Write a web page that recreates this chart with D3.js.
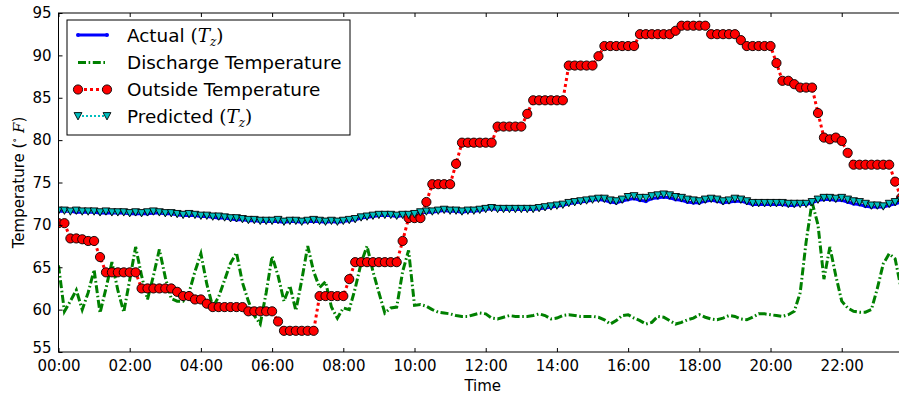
<!DOCTYPE html>
<html><head><meta charset="utf-8">
<script src="https://cdn.jsdelivr.net/npm/d3@7/dist/d3.min.js"></script>
<style>body{margin:0;background:#fff}svg{display:block}text{font-family:"DejaVu Sans",sans-serif}</style>
</head><body>
<svg id="c" width="899" height="398"></svg>
<script>
// ---- data (10-minute samples starting 00:00) ----
const stepMinutes = 10;
const tickLabels = ["00:00","02:00","04:00","06:00","08:00","10:00","12:00","14:00","16:00","18:00","20:00","22:00"];
const yTicks = [55,60,65,70,75,80,85,90,95];
const seriesNames = ["Actual", "Discharge Temperature", "Outside Temperature", "Predicted"];

const outside = [70.2,70.2,
 68.4,68.4,68.3,68.1,68.1, 66.2,
 64.4,64.4,64.4,64.4,64.4,64.4,
 62.5,62.5,62.5,62.5,62.5,62.5, 62.1, 61.6,61.6, 61.2,61.2, 60.7,
 60.3,60.3,60.3,60.3,60.3,60.3, 59.8,59.8,59.8,59.8,59.8, 58.6,
 57.5,57.5,57.5,57.5,57.5,57.5, 61.6,61.6,61.6,61.6,61.6, 63.6,
 65.6,65.6,65.6,65.6,65.6,65.6,65.6,65.6, 68.1, 70.8,70.8,70.8, 72.7,
 74.8,74.8,74.8,74.8, 77.2, 79.7,79.7,79.7,79.7,79.7,79.7,
 81.6,81.6,81.6,81.6,81.6, 83.1, 84.7,84.7,84.7,84.7,84.7,84.7,
 88.8,88.8,88.8,88.8,88.8, 89.9, 91.1,91.1,91.1,91.1,91.1,91.1,
 92.5,92.5,92.5,92.5,92.5,92.5, 92.9, 93.5,93.5,93.5,93.5,93.5,
 92.5,92.5,92.5,92.5,92.5, 91.8, 91.1,91.1,91.1,91.1,91.1, 89.1,
 87.0,87.0, 86.6, 86.2,86.2,86.2, 83.2, 80.3,80.1,80.3, 79.9, 78.5,
 77.1,77.1,77.1,77.1,77.1,77.1,77.1, 75.1, 73.2];

const discharge = [65.2,59.8,61.0,62.3,60.0,62.0,64.7,59.6,62.5,65.6,
 62.3,59.7,63.5,67.4,64.0,61.2,64.0,67.1,63.8,61.3,
 61.0,61.0,62.0,64.5,66.6,63.0,60.3,61.5,63.5,65.5,
 66.7,63.2,61.0,59.3,58.3,62.0,66.3,64.0,61.0,62.8,
 59.9,63.5,67.5,64.5,62.6,63.3,60.3,59.0,60.2,60.0,
 62.5,65.5,67.5,64.5,62.0,59.6,60.2,60.3,64.5,67.0,
 60.5,60.6,60.4,60.0,59.7,59.6,59.5,59.3,59.2,59.2,
 59.4,59.6,59.5,59.0,58.9,59.1,59.3,59.2,59.2,59.2,
 59.3,59.5,59.3,58.9,59.0,59.3,59.4,59.3,59.2,59.2,
 59.2,59.1,58.8,58.3,58.7,59.3,59.4,59.0,58.7,58.3,
 58.5,59.2,59.1,58.7,58.3,58.5,58.8,59.0,59.4,59.1,
 58.9,58.8,59.0,59.3,59.2,58.9,58.8,59.1,59.5,59.5,
 59.4,59.3,59.2,59.4,59.8,62.0,68.0,72.7,70.0,63.6,
 67.4,64.0,61.0,60.2,59.8,59.7,59.7,60.0,62.5,65.4,
 66.6,66.0,62.5];

const predicted = [71.7,71.7,71.6,71.7,71.6,71.6,71.6,71.5,71.6,71.5,
 71.5,71.5,71.4,71.5,71.4,71.5,71.6,71.5,71.4,71.4,
 71.3,71.2,71.3,71.2,71.1,71.1,71.0,71.0,70.9,70.8,
 70.8,70.7,70.6,70.6,70.5,70.5,70.5,70.6,70.4,70.5,
 70.5,70.4,70.5,70.6,70.5,70.4,70.5,70.4,70.5,70.6,
 70.7,70.9,71.0,71.1,71.2,71.2,71.2,71.1,71.2,71.2,
 71.3,71.5,71.6,71.6,71.7,71.8,71.7,71.7,71.6,71.7,
 71.7,71.8,71.9,72.0,71.9,71.9,71.9,71.9,71.9,71.9,
 71.9,72.0,72.1,72.2,72.3,72.4,72.6,72.7,72.8,72.9,
 73.0,73.1,73.1,72.9,72.8,73.0,73.3,73.4,73.2,73.2,
 73.4,73.5,73.6,73.5,73.3,73.2,73.0,72.9,72.8,73.0,
 73.1,73.0,72.8,72.9,73.1,73.0,72.8,72.6,72.6,72.6,
 72.6,72.6,72.6,72.5,72.5,72.5,72.5,72.7,73.0,73.2,
 73.2,73.1,73.2,73.0,72.8,72.7,72.5,72.3,72.3,72.2,
 72.5,72.7,72.9];

const actual = [71.6,71.6,71.6,71.5,71.5,71.5,71.5,71.4,71.4,71.4,
 71.4,71.4,71.3,71.3,71.3,71.3,71.4,71.4,71.3,71.3,
 71.2,71.1,71.1,71.1,71.0,71.0,70.9,70.8,70.8,70.7,
 70.6,70.6,70.5,70.5,70.4,70.4,70.4,70.4,70.3,70.4,
 70.4,70.3,70.4,70.4,70.4,70.3,70.4,70.3,70.4,70.5,
 70.6,70.8,70.9,71.0,71.1,71.1,71.1,71.0,71.1,71.1,
 71.2,71.4,71.5,71.5,71.6,71.7,71.6,71.6,71.5,71.6,
 71.6,71.7,71.8,71.9,71.8,71.8,71.8,71.8,71.8,71.8,
 71.8,71.9,72.0,72.1,72.2,72.3,72.5,72.6,72.7,72.8,
 72.9,73.0,72.9,72.7,72.6,72.8,73.0,73.1,72.9,72.8,
 73.1,73.2,73.3,73.2,73.0,72.9,72.7,72.6,72.6,72.8,
 72.9,72.8,72.6,72.7,72.8,72.8,72.6,72.4,72.4,72.4,
 72.4,72.4,72.4,72.3,72.3,72.4,72.4,72.6,72.9,73.0,
 73.0,72.9,72.9,72.7,72.5,72.4,72.2,72.1,72.1,72.1,
 72.3,72.5,72.7];

// ---- layout ----
const svg = d3.select("#c");
const L = 58.5, T = 13, B = 352, R = 907;
const x = d3.scaleLinear().domain([0, 1430]).range([L, R]);
const y = d3.scaleLinear().domain([55, 95]).range([B, T]);
const tOf = i => i * stepMinutes;
const greenDash = "8,2.6,1.6,2.6";

svg.append("defs").append("clipPath").attr("id","pc")
  .append("rect").attr("x",L).attr("y",T).attr("width",R-L).attr("height",B-T);

const plot = svg.append("g").attr("clip-path","url(#pc)");

const line = d3.line().x((d,i)=>x(tOf(i))).y(d=>y(d));

// Actual
plot.append("path").attr("d", line(actual)).attr("fill","none")
  .attr("stroke","#0000ff").attr("stroke-width",3).attr("stroke-linejoin","round");
plot.append("g").selectAll("circle").data(actual).join("circle")
  .attr("cx",(d,i)=>x(tOf(i))).attr("cy",d=>y(d)).attr("r",2).attr("fill","#0000ff");

// Discharge
plot.append("path").attr("d", line(discharge)).attr("fill","none")
  .attr("stroke","#008000").attr("stroke-width",3).attr("stroke-dasharray",greenDash);

// Outside
plot.append("path").attr("d", line(outside)).attr("fill","none")
  .attr("stroke","#ff0000").attr("stroke-width",3).attr("stroke-dasharray","3,3");
plot.append("g").selectAll("circle").data(outside).join("circle")
  .attr("cx",(d,i)=>x(tOf(i))).attr("cy",d=>y(d)).attr("r",4.6)
  .attr("fill","#ff0000").attr("stroke","#000").attr("stroke-width",0.9);

// Predicted
const tri = "M-3.9,-3.4L3.9,-3.4L0,3.9Z";
plot.append("path").attr("d", line(predicted)).attr("fill","none")
  .attr("stroke","#00bfbf").attr("stroke-width",2).attr("stroke-dasharray","2,2");
plot.append("g").selectAll("path").data(predicted).join("path")
  .attr("d", tri).attr("transform",(d,i)=>`translate(${x(tOf(i))},${y(d)})`)
  .attr("fill","#00bfbf").attr("stroke","#000").attr("stroke-width",0.9);

// ---- axes ----
const xt = tickLabels.map((s,i)=>i*120);
const ax = svg.append("g").attr("transform",`translate(0,${B})`)
  .call(d3.axisBottom(x).tickValues(xt).tickFormat((d,i)=>tickLabels[i]).tickSize(-4).tickPadding(8));
const axT = svg.append("g").attr("transform",`translate(0,${T})`)
  .call(d3.axisTop(x).tickValues(xt).tickFormat("").tickSize(-4));
const ay = svg.append("g").attr("transform",`translate(${L},0)`)
  .call(d3.axisLeft(y).tickValues(yTicks).tickFormat(d3.format("d")).tickSize(-4).tickPadding(7));
[ax,axT,ay].forEach(g=>{
  g.select(".domain").remove();
  g.selectAll(".tick line").attr("stroke","#000").attr("stroke-width",1);
  g.selectAll("text").attr("font-size",15).attr("fill","#000").attr("font-family","DejaVu Sans");
});
ay.selectAll(".tick text").filter(d=>d===55).attr("dy","0.05em");
svg.append("rect").attr("x",L).attr("y",T).attr("width",R-L).attr("height",B-T)
  .attr("fill","none").attr("stroke","#000").attr("stroke-width",1);

svg.append("text").attr("x",(L+R)/2).attr("y",391).attr("text-anchor","middle")
  .attr("font-size",15).text("Time");
const yl = svg.append("text").attr("transform",`translate(24,${(T+B)/2}) rotate(-90)`)
  .attr("text-anchor","middle").attr("font-size",15);
yl.append("tspan").text("Temperature (");
yl.append("tspan").attr("font-family","DejaVu Serif").attr("font-size",10).attr("dy",-6).text("∘");
yl.append("tspan").attr("font-family","DejaVu Serif").attr("font-style","italic").attr("dy",6).text(" F");
yl.append("tspan").text(")");

// ---- legend ----
const lg = svg.append("g");
lg.append("rect").attr("x",67).attr("y",20).attr("width",283).attr("height",115)
  .attr("fill","#fff").attr("stroke","#000").attr("stroke-width",1);
const ly = [35, 62.5, 89.5, 116];
const hx0 = 78, hx1 = 107;
// actual
lg.append("line").attr("x1",hx0).attr("x2",hx1).attr("y1",ly[0]).attr("y2",ly[0])
  .attr("stroke","#0000ff").attr("stroke-width",3);
[hx0,hx1].forEach(cx=>lg.append("circle").attr("cx",cx).attr("cy",ly[0]).attr("r",2).attr("fill","#0000ff"));
// discharge
lg.append("line").attr("x1",hx0).attr("x2",hx1).attr("y1",ly[1]).attr("y2",ly[1])
  .attr("stroke","#008000").attr("stroke-width",3).attr("stroke-dasharray",greenDash);
// outside
lg.append("line").attr("x1",hx0).attr("x2",hx1).attr("y1",ly[2]).attr("y2",ly[2])
  .attr("stroke","#ff0000").attr("stroke-width",3).attr("stroke-dasharray","3,3");
[hx0,hx1].forEach(cx=>lg.append("circle").attr("cx",cx).attr("cy",ly[2]).attr("r",4.6)
  .attr("fill","#ff0000").attr("stroke","#000").attr("stroke-width",0.9));
// predicted
lg.append("line").attr("x1",hx0).attr("x2",hx1).attr("y1",ly[3]).attr("y2",ly[3])
  .attr("stroke","#00bfbf").attr("stroke-width",2).attr("stroke-dasharray","2,2");
[hx0,hx1].forEach(cx=>lg.append("path").attr("d",tri).attr("transform",`translate(${cx},${ly[3]})`)
  .attr("fill","#00bfbf").attr("stroke","#000").attr("stroke-width",0.9));

const lx = 127;
function legText(yy){ return lg.append("text").attr("x",lx).attr("y",yy).attr("dy","0.36em").attr("font-size",18.4); }
function mathLabel(t, name){
  t.append("tspan").text(name + " ");
  t.append("tspan").attr("font-family","DejaVu Serif").text("(");
  t.append("tspan").attr("font-family","DejaVu Serif").attr("font-style","italic").text("T");
  t.append("tspan").attr("font-family","DejaVu Serif").attr("font-style","italic").attr("font-size",12).attr("dy",4).text("z");
  t.append("tspan").attr("font-family","DejaVu Serif").attr("dy",-4).text(")");
}
mathLabel(legText(ly[0]), seriesNames[0]);
legText(ly[1]).text(seriesNames[1]);
legText(ly[2]).text(seriesNames[2]);
mathLabel(legText(ly[3]), seriesNames[3]);
</script>
</body></html>
